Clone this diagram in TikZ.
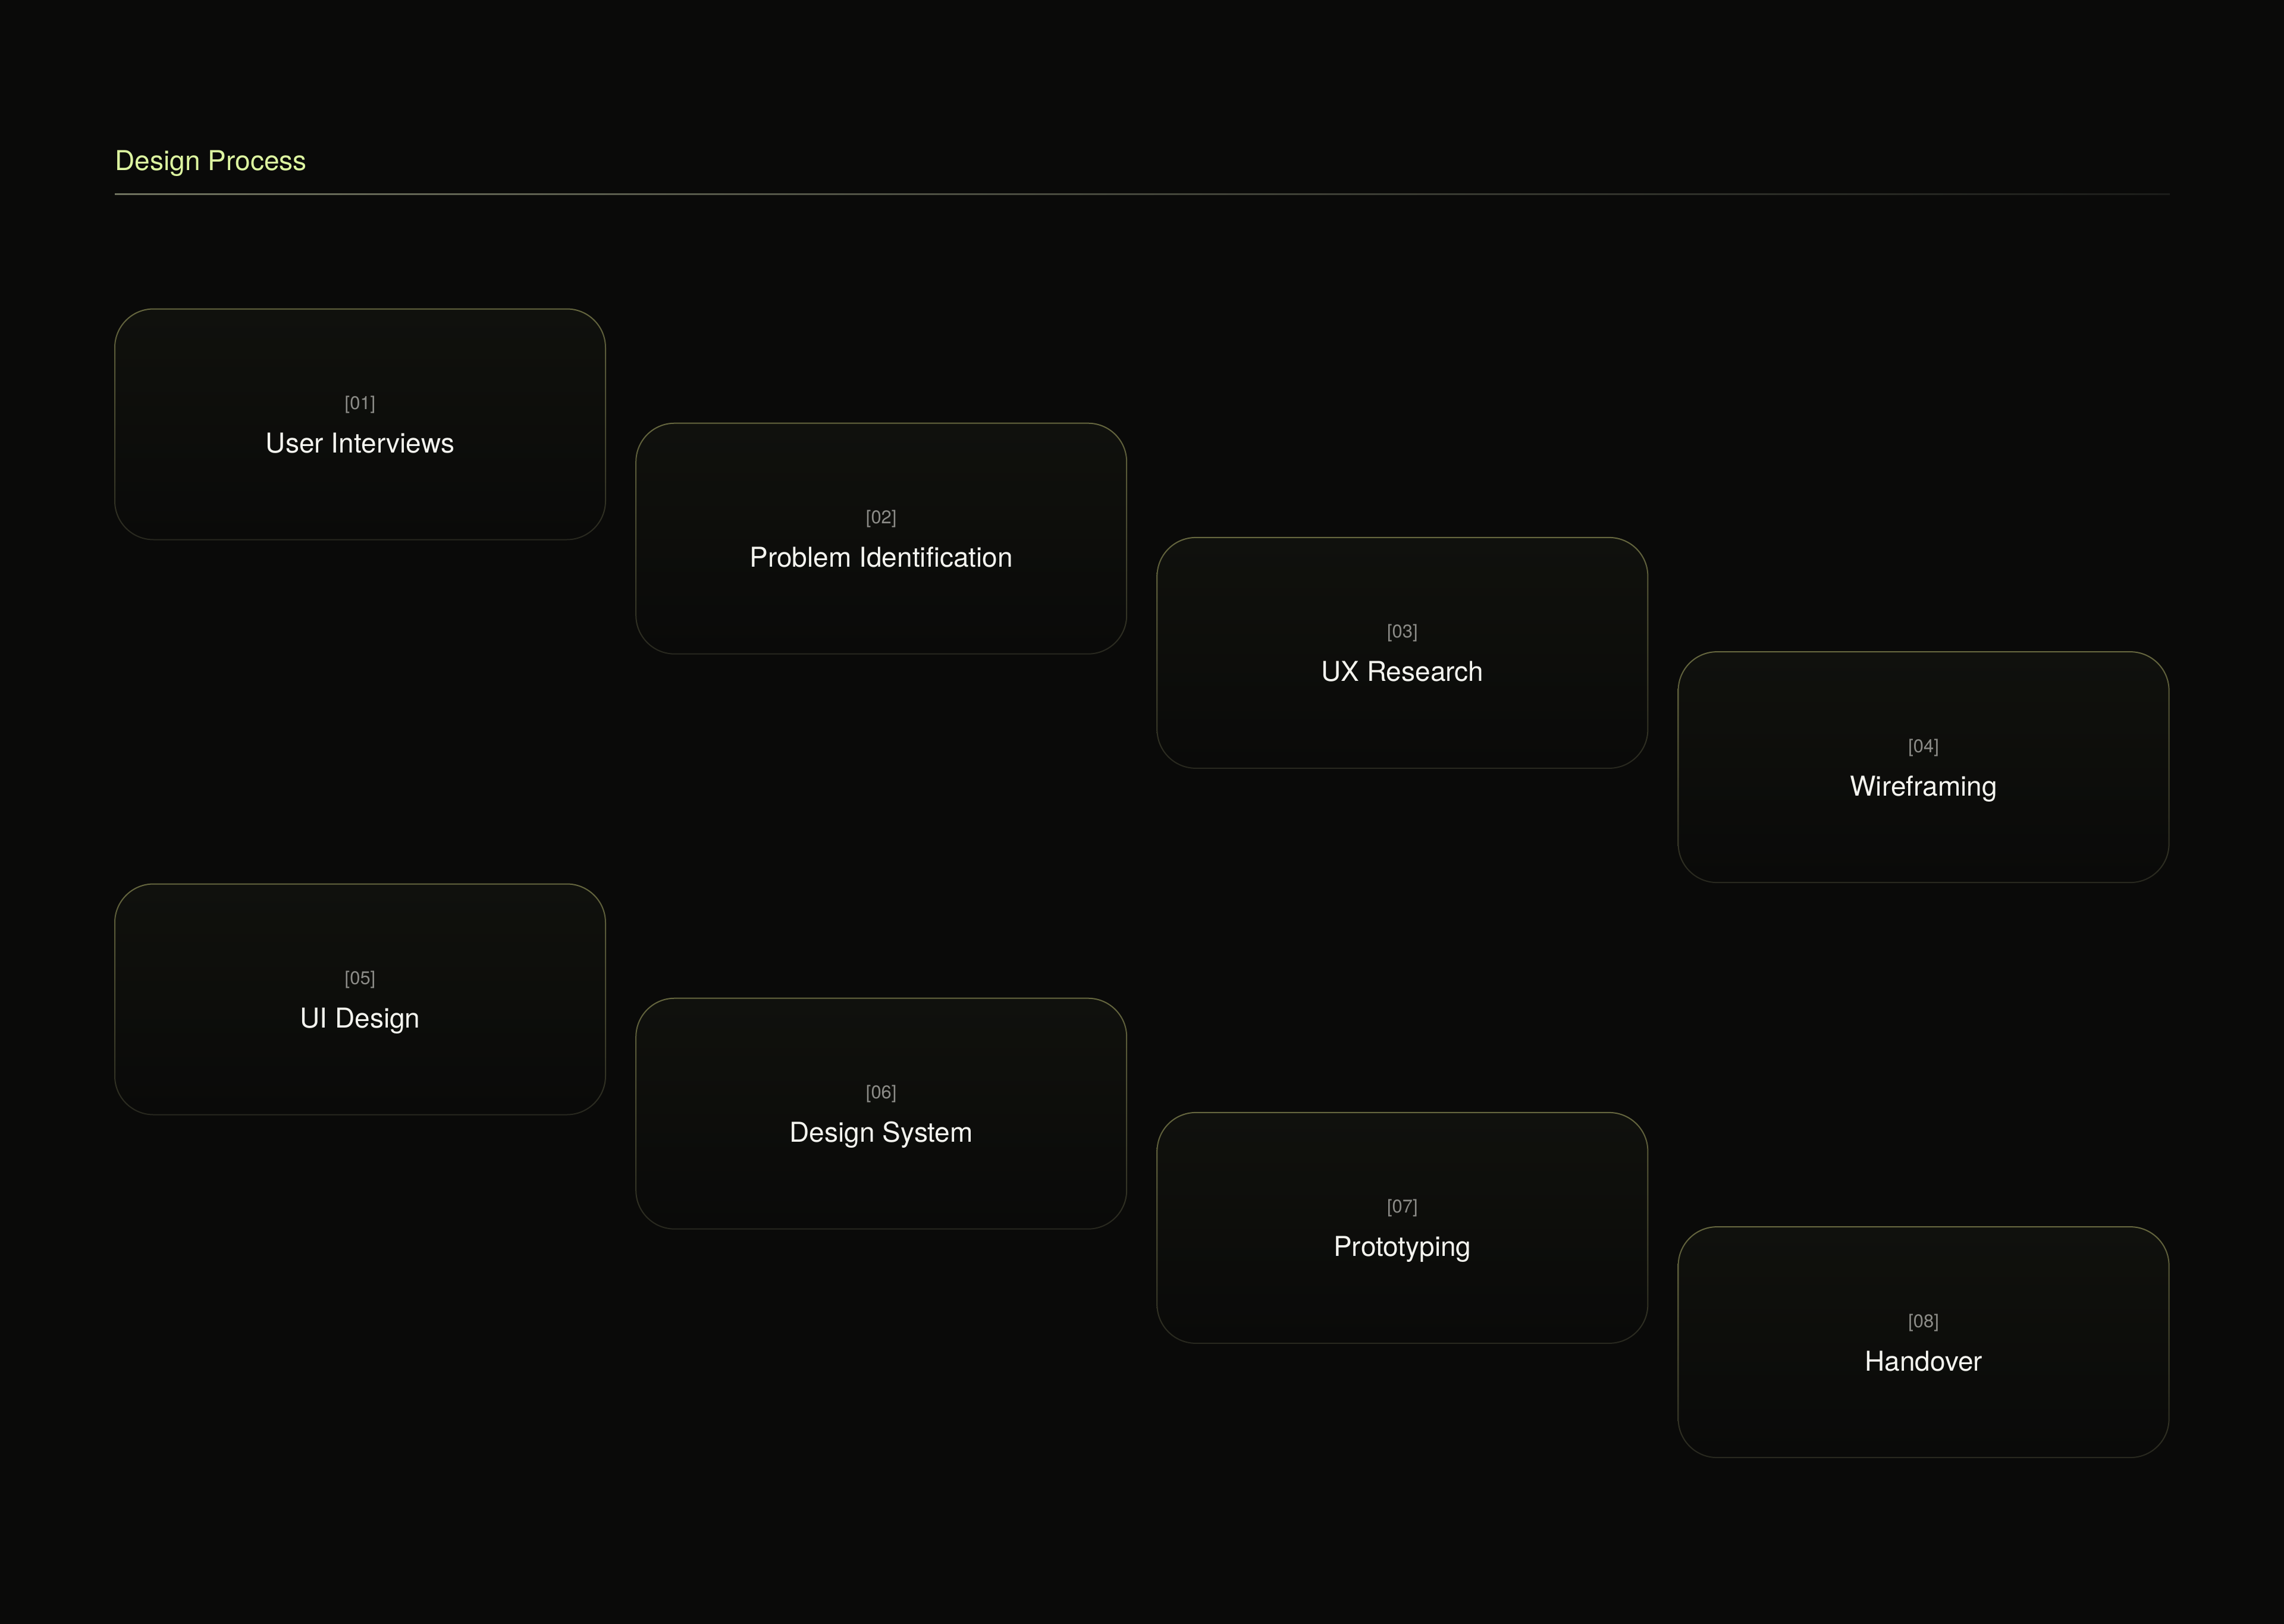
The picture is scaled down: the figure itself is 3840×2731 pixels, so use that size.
\documentclass[tikz,border=0pt]{standalone}
\usepackage{fontspec}
\setmainfont{TeX Gyre Heros}
\usepackage{tikz}
\usetikzlibrary{calc}
\definecolor{pagebg}{HTML}{0A0A09}
\definecolor{boxtop}{HTML}{10110D}
\definecolor{boxbot}{HTML}{0A0A09}
\definecolor{frametop}{HTML}{66673F}
\definecolor{framebot}{HTML}{28281F}
\definecolor{rulestart}{HTML}{70735F}
\definecolor{ruleend}{HTML}{1C1D1A}
\definecolor{titlecol}{HTML}{DDF5A0}
\definecolor{numcol}{HTML}{8C8C88}
\definecolor{labelcol}{HTML}{F4F4EF}
% thin frame with a top-to-bottom fade round a stage box
\newcommand{\stageframe}[1]{%
  \shade[even odd rule,top color=frametop,bottom color=framebot,rounded corners=6.6mm]
    ($(#1.north west)+(-1,-1)$) rectangle ($(#1.south east)+(1,1)$)
    [rounded corners=6.4mm] ($(#1.north west)+(1,1)$) rectangle ($(#1.south east)+(-1,-1)$);}

\begin{document}
\begin{tikzpicture}[x=0.1mm,y=-0.1mm,
  stage/.style={rectangle,rounded corners=6.5mm,minimum width=82.5mm,minimum height=38.8mm,
    inner sep=0pt,outer sep=0pt,top color=boxtop,bottom color=boxbot},
  stepnum/.style={anchor=base,text=numcol,font=\fontsize{8.8pt}{10pt}\selectfont},
  steplabel/.style={anchor=base,text=labelcol,font=\fontsize{13.1pt}{15pt}\selectfont},
  heading/.style={anchor=base west,text=titlecol,inner sep=0pt,font=\fontsize{13.1pt}{15pt}\selectfont}]
  % page
  \fill[pagebg] (0,0) rectangle (3840,2731);
  \useasboundingbox (0,0) rectangle (3840,2731);
  % heading and rule
  \node[heading] (title) at (193,286) {Design Process};
  \coordinate (rulel) at (193,325);
  \coordinate (ruler) at (3648,327);
  \shade[left color=rulestart,right color=ruleend] (rulel) rectangle (ruler);
  % first row
  \node[stage] (b1) at (605.5,713.5) {};
  \node[stage] (b2) at (1481.7,905.7) {};
  \node[stage] (b3) at (2357.9,1097.9) {};
  \node[stage] (b4) at (3234.1,1290.1) {};
  % second row
  \node[stage] (b5) at (605.5,1680.5) {};
  \node[stage] (b6) at (1481.7,1872.7) {};
  \node[stage] (b7) at (2357.9,2064.9) {};
  \node[stage] (b8) at (3234.1,2257.1) {};
  \stageframe{b1}\stageframe{b2}\stageframe{b3}\stageframe{b4}
  \stageframe{b5}\stageframe{b6}\stageframe{b7}\stageframe{b8}
  % texts
  \node[stepnum] (n1) at ($(b1.center)+(0,-25)$) {[01]};
  \node[steplabel] (t1) at ($(b1.center)+(0,48)$) {User Interviews};
  \node[stepnum] (n2) at ($(b2.center)+(0,-25)$) {[02]};
  \node[steplabel] (t2) at ($(b2.center)+(0,48)$) {Problem Identification};
  \node[stepnum] (n3) at ($(b3.center)+(0,-25)$) {[03]};
  \node[steplabel] (t3) at ($(b3.center)+(0,48)$) {UX Research};
  \node[stepnum] (n4) at ($(b4.center)+(0,-25)$) {[04]};
  \node[steplabel] (t4) at ($(b4.center)+(0,48)$) {Wireframing};
  \node[stepnum] (n5) at ($(b5.center)+(0,-25)$) {[05]};
  \node[steplabel] (t5) at ($(b5.center)+(0,48)$) {UI Design};
  \node[stepnum] (n6) at ($(b6.center)+(0,-25)$) {[06]};
  \node[steplabel] (t6) at ($(b6.center)+(0,48)$) {Design System};
  \node[stepnum] (n7) at ($(b7.center)+(0,-25)$) {[07]};
  \node[steplabel] (t7) at ($(b7.center)+(0,48)$) {Prototyping};
  \node[stepnum] (n8) at ($(b8.center)+(0,-25)$) {[08]};
  \node[steplabel] (t8) at ($(b8.center)+(0,48)$) {Handover};
\end{tikzpicture}
\end{document}
